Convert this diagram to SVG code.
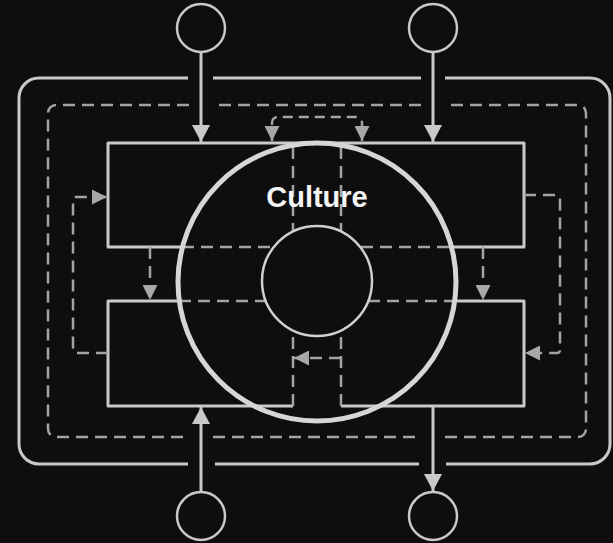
<svg xmlns="http://www.w3.org/2000/svg" width="613" height="543" viewBox="0 0 613 543">
<style>
.solid{fill:none;stroke:#c9c9c9;stroke-width:3;stroke-linejoin:round}
.dash{fill:none;stroke:#a3a3a3;stroke-width:2.5;stroke-dasharray:12 7}
.term{fill:none;stroke:#c9c9c9;stroke-width:2.5}
.txt{font-family:"Liberation Sans",Arial,sans-serif;font-weight:bold;font-size:29px;fill:#f4f4f4}
</style>
<defs>
<marker id="arr" viewBox="0 0 17 18" refX="17" refY="9" markerWidth="17" markerHeight="18" markerUnits="userSpaceOnUse" orient="auto"><path d="M0,0 L17,9 L0,18 z" fill="#c9c9c9"/></marker>
<marker id="darr" viewBox="0 0 15 15" refX="15" refY="7.5" markerWidth="15" markerHeight="15" markerUnits="userSpaceOnUse" orient="auto-start-reverse"><path d="M0,0 L15,7.5 L0,15 z" fill="#a8a8a8"/></marker>
</defs>
<rect x="0" y="0" width="613" height="543" fill="#0e0e0e"/>

<g id="frames">
<path class="solid" d="M188,78 H39 A20,20 0 0 0 19,98 V444 A20,20 0 0 0 39,464 H188 M215,464 H419 M446,464 H590 A20,20 0 0 0 610,444 V98 A20,20 0 0 0 590,78 H445 M421,78 H213"/>
<path class="dash" d="M189,105 H56 A8,8 0 0 0 48,113 V429 A8,8 0 0 0 56,437 H189 M213,437 H421 M445,437 H578 A8,8 0 0 0 586,429 V113 A8,8 0 0 0 578,105 H445 M421,105 H213"/>
</g>

<g id="top-box">
<path class="solid" d="M182,247 H108 V143 H524 V247 H452"/>
<path class="dash" d="M182,247 H273 M361,247 H452 M293,147 V231 M341,147 V231"/>
</g>

<g id="bottom-box">
<path class="solid" d="M179,301 H108 V406 H293 M341,406 H524 V301 H455"/>
<path class="dash" d="M179,301 H266 M368,301 H455 M293,406 V333 M341,406 V333"/>
</g>

<g id="culture">
<circle cx="317" cy="282" r="139" fill="none" stroke="#d6d6d6" stroke-width="5"/>
<text class="txt" x="317" y="207" text-anchor="middle">Culture</text>
</g>

<g id="core">
<circle cx="317" cy="281" r="55" fill="none" stroke="#cfcfcf" stroke-width="2.5"/>
</g>

<g id="in-top-left"><circle class="term" cx="201" cy="28" r="24"/></g>
<g id="in-top-right"><circle class="term" cx="433" cy="28" r="24"/></g>
<g id="in-bottom-left"><circle class="term" cx="201" cy="516" r="24"/></g>
<g id="out-bottom-right"><circle class="term" cx="433" cy="516" r="24"/></g>

<g id="connectors">
<path class="solid" d="M201,52 V142" marker-end="url(#arr)"/>
<path class="solid" d="M433,52 V142" marker-end="url(#arr)"/>
<path class="solid" d="M201,492 V407" marker-end="url(#arr)"/>
<path class="solid" d="M433,406 V491" marker-end="url(#arr)"/>
<path class="dash" d="M108,353 H76 A3,3 0 0 1 73,350 V200 A3,3 0 0 1 76,197 H107" marker-end="url(#darr)"/>
<path class="dash" d="M524,195 H557 A3,3 0 0 1 560,198 V350 A3,3 0 0 1 557,353 H525" marker-end="url(#darr)"/>
<path class="dash" d="M150,247 V300" marker-end="url(#darr)"/>
<path class="dash" d="M483,247 V300" marker-end="url(#darr)"/>
<path class="dash" d="M341,358 H294" marker-end="url(#darr)"/>
<path class="dash" style="stroke-dasharray:10 6" d="M272,141 V123 A6,6 0 0 1 278,117 H356 A6,6 0 0 1 362,123 V141" marker-start="url(#darr)" marker-end="url(#darr)"/>
</g>
</svg>
